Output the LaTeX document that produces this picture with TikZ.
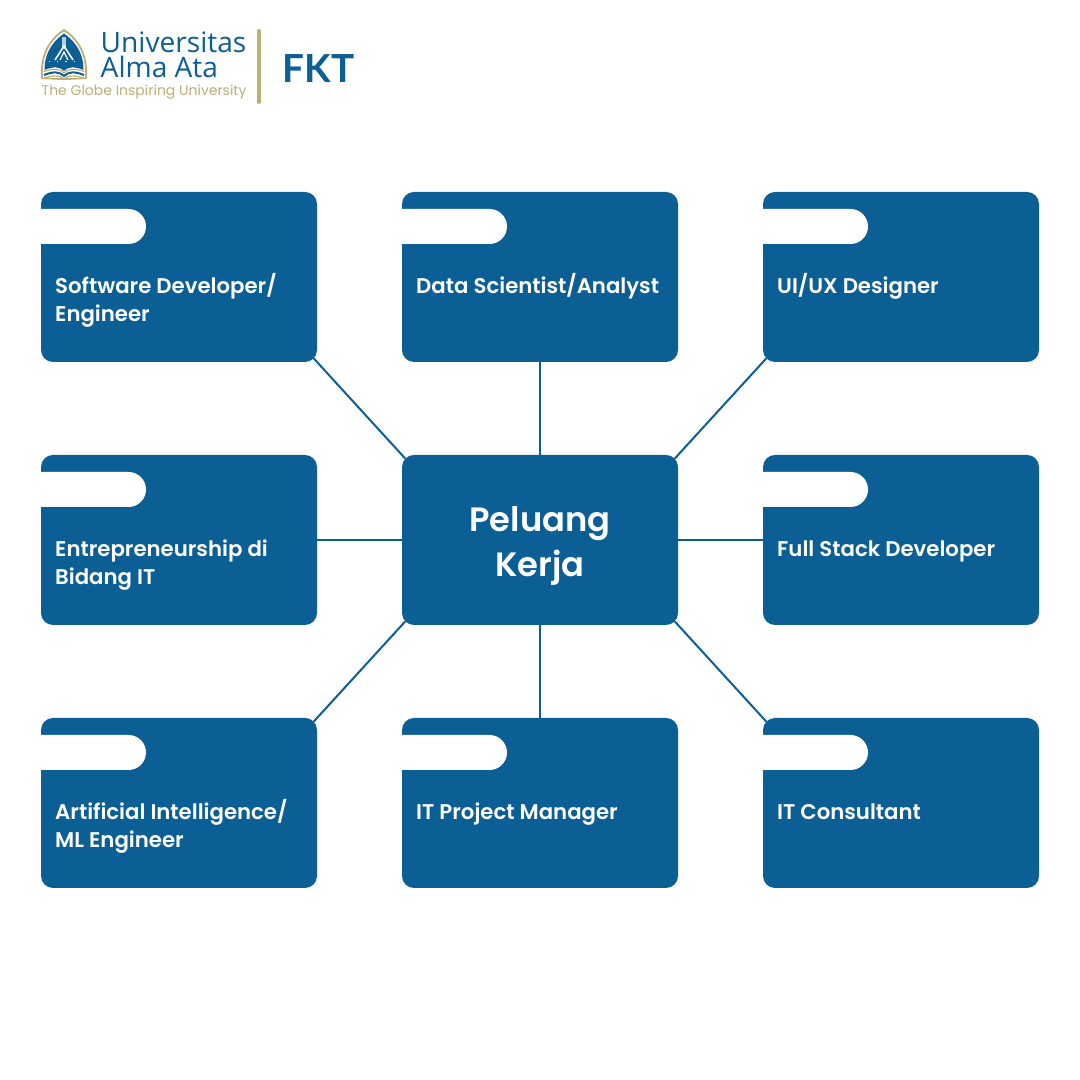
\documentclass[tikz,border=0pt]{standalone}
\usepackage{fontspec}
\setmainfont{Poppins}
\newfontfamily\cardfont{Poppins SemiBold}
\newfontfamily\logofont{Open Sans}
\newfontfamily\fktfont{Lato}
\usetikzlibrary{positioning}
\definecolor{ublue}{HTML}{0C5F94}
\definecolor{ugold}{HTML}{BFAE78}

\begin{document}
\begin{tikzpicture}[node distance = 0.93cm and 0.85cm]

\tikzstyle{card} = [rectangle, rounded corners=0.12cm, minimum width=2.76cm, minimum height=1.7cm, inner sep=0, outer sep=0, fill=ublue]
\tikzstyle{cardtext} = [anchor=base west, inner sep=0, align=left, text=white, font=\cardfont\fontsize{6.05pt}{7.97pt}\selectfont]
\tikzstyle{titletext} = [inner sep=0, align=center, text=white, font=\cardfont\fontsize{9.6pt}{12.8pt}\selectfont]
\tikzstyle{logotext} = [anchor=base west, inner sep=0, text=ublue, font=\logofont\fontsize{8pt}{9pt}\selectfont]
\tikzstyle{link} = [ublue, line width=0.02cm, shorten <=-0.05cm, shorten >=-0.05cm]

\useasboundingbox (0,0) rectangle (10.8,10.8);
\fill[white] (0,0) rectangle (10.8,10.8);

% centre
\node (peluang)[card] at (5.40,5.40) {};
\node (peluangtext)[titletext] at ([yshift=-0.06cm]peluang.center) {Peluang\\Kerja};

% cards
\node (software)[card, above left = of peluang]{};
\node (data)[card, above = of peluang]{};
\node (uiux)[card, above right = of peluang]{};
\node (entre)[card, left = of peluang]{};
\node (fullstack)[card, right = of peluang]{};
\node (ai)[card, below left = of peluang]{};
\node (project)[card, below = of peluang]{};
\node (consultant)[card, below right = of peluang]{};

% tabs
\foreach \card in {software,data,uiux,entre,fullstack,ai,project,consultant}{
  \fill[white] ([yshift=-0.17cm]\card.north west) -- ++(0.875,0) arc[start angle=90, end angle=-90, radius=0.175] -- ++(-0.875,0) -- cycle;
}

% labels (base of a two-line text is its last line)
\node (softwaretext)[cardtext] at ([xshift=0.135cm, yshift=-1.295cm]software.north west) {Software Developer/\\Engineer};
\node (datatext)[cardtext] at ([xshift=0.135cm, yshift=-1.015cm]data.north west) {Data Scientist/Analyst};
\node (uiuxtext)[cardtext] at ([xshift=0.135cm, yshift=-1.015cm]uiux.north west) {UI/UX Designer};
\node (entretext)[cardtext] at ([xshift=0.135cm, yshift=-1.295cm]entre.north west) {Entrepreneurship di\\Bidang IT};
\node (fullstacktext)[cardtext] at ([xshift=0.135cm, yshift=-1.015cm]fullstack.north west) {Full Stack Developer};
\node (aitext)[cardtext] at ([xshift=0.135cm, yshift=-1.295cm]ai.north west) {Artificial Intelligence/\\ML Engineer};
\node (projecttext)[cardtext] at ([xshift=0.135cm, yshift=-1.015cm]project.north west) {IT Project Manager};
\node (consultanttext)[cardtext] at ([xshift=0.135cm, yshift=-1.015cm]consultant.north west) {IT Consultant};

% links
\draw[link] (peluang.north west) -- (software.south east);
\draw[link] (peluang.north) -- (data.south);
\draw[link] (peluang.north east) -- (uiux.south west);
\draw[link] (peluang.west) -- (entre.east);
\draw[link] (peluang.east) -- (fullstack.west);
\draw[link] (peluang.south west) -- (ai.north east);
\draw[link] (peluang.south) -- (project.north);
\draw[link] (peluang.south east) -- (consultant.north west);

% logo
\begin{scope}[shift={(0.64,10.51)}]
  \fill[ugold] (-0.23,-0.42) .. controls (-0.23,-0.2) and (-0.1,-0.06) .. (0,0) .. controls (0.1,-0.06) and (0.23,-0.2) .. (0.23,-0.42) -- (0.23,-0.5) -- (0.02,-0.51) -- (-0.02,-0.51) -- (-0.23,-0.5) -- cycle;
  \fill[white] (-0.21,-0.42) .. controls (-0.21,-0.21) and (-0.09,-0.08) .. (0,-0.025) .. controls (0.09,-0.08) and (0.21,-0.21) .. (0.21,-0.42) -- (0.21,-0.49) -- (-0.21,-0.49) -- cycle;
  \fill[ublue] (-0.195,-0.41) .. controls (-0.195,-0.21) and (-0.08,-0.1) .. (0,-0.045) .. controls (0.08,-0.1) and (0.195,-0.21) .. (0.195,-0.41) .. controls (0.1,-0.37) and (0.04,-0.38) .. (0,-0.42) .. controls (-0.04,-0.38) and (-0.1,-0.37) .. (-0.195,-0.41) -- cycle;
  \draw[ublue, line width=0.02cm] (-0.2,-0.46) .. controls (-0.1,-0.42) and (-0.04,-0.43) .. (0,-0.47) .. controls (0.04,-0.43) and (0.1,-0.42) .. (0.2,-0.46);
  \draw[ugold, line width=0.012cm] (-0.2,-0.425) .. controls (-0.1,-0.39) and (-0.04,-0.4) .. (0,-0.44) .. controls (0.04,-0.4) and (0.1,-0.39) .. (0.2,-0.425);
  \draw[ugold, line width=0.012cm] (-0.2,-0.49) .. controls (-0.1,-0.46) and (-0.04,-0.46) .. (0,-0.5) .. controls (0.04,-0.46) and (0.1,-0.46) .. (0.2,-0.49);
  % tower
  \fill[white!70!ublue] (-0.022,-0.08) rectangle (0.022,-0.2);
  \draw[white, line width=0.016cm] (-0.09,-0.31) -- (0,-0.17) -- (0.09,-0.31);
  \draw[white, line width=0.012cm] (-0.04,-0.31) -- (0,-0.23) -- (0.04,-0.31);
  \draw[white, line width=0.012cm, dotted] (-0.15,-0.325) -- (0.15,-0.325);
\end{scope}

\node (universitas)[logotext] at (1.00,10.27) {Universitas};
\node (almaata)[logotext] at (1.00,10.02) {Alma Ata};
\node (tagline)[logotext, text=ugold, font=\rmfamily\fontsize{3.98pt}{5pt}\selectfont] at (0.41,9.84) {The Globe Inspiring University};
\node (fkt)[logotext, font=\fktfont\fontsize{11pt}{12pt}\selectfont\bfseries] at (2.82,9.975) {FKT};
\draw[ugold, line width=0.04cm, line cap=round] (2.585,10.49) -- (2.585,9.78);

\end{tikzpicture}
\end{document}
